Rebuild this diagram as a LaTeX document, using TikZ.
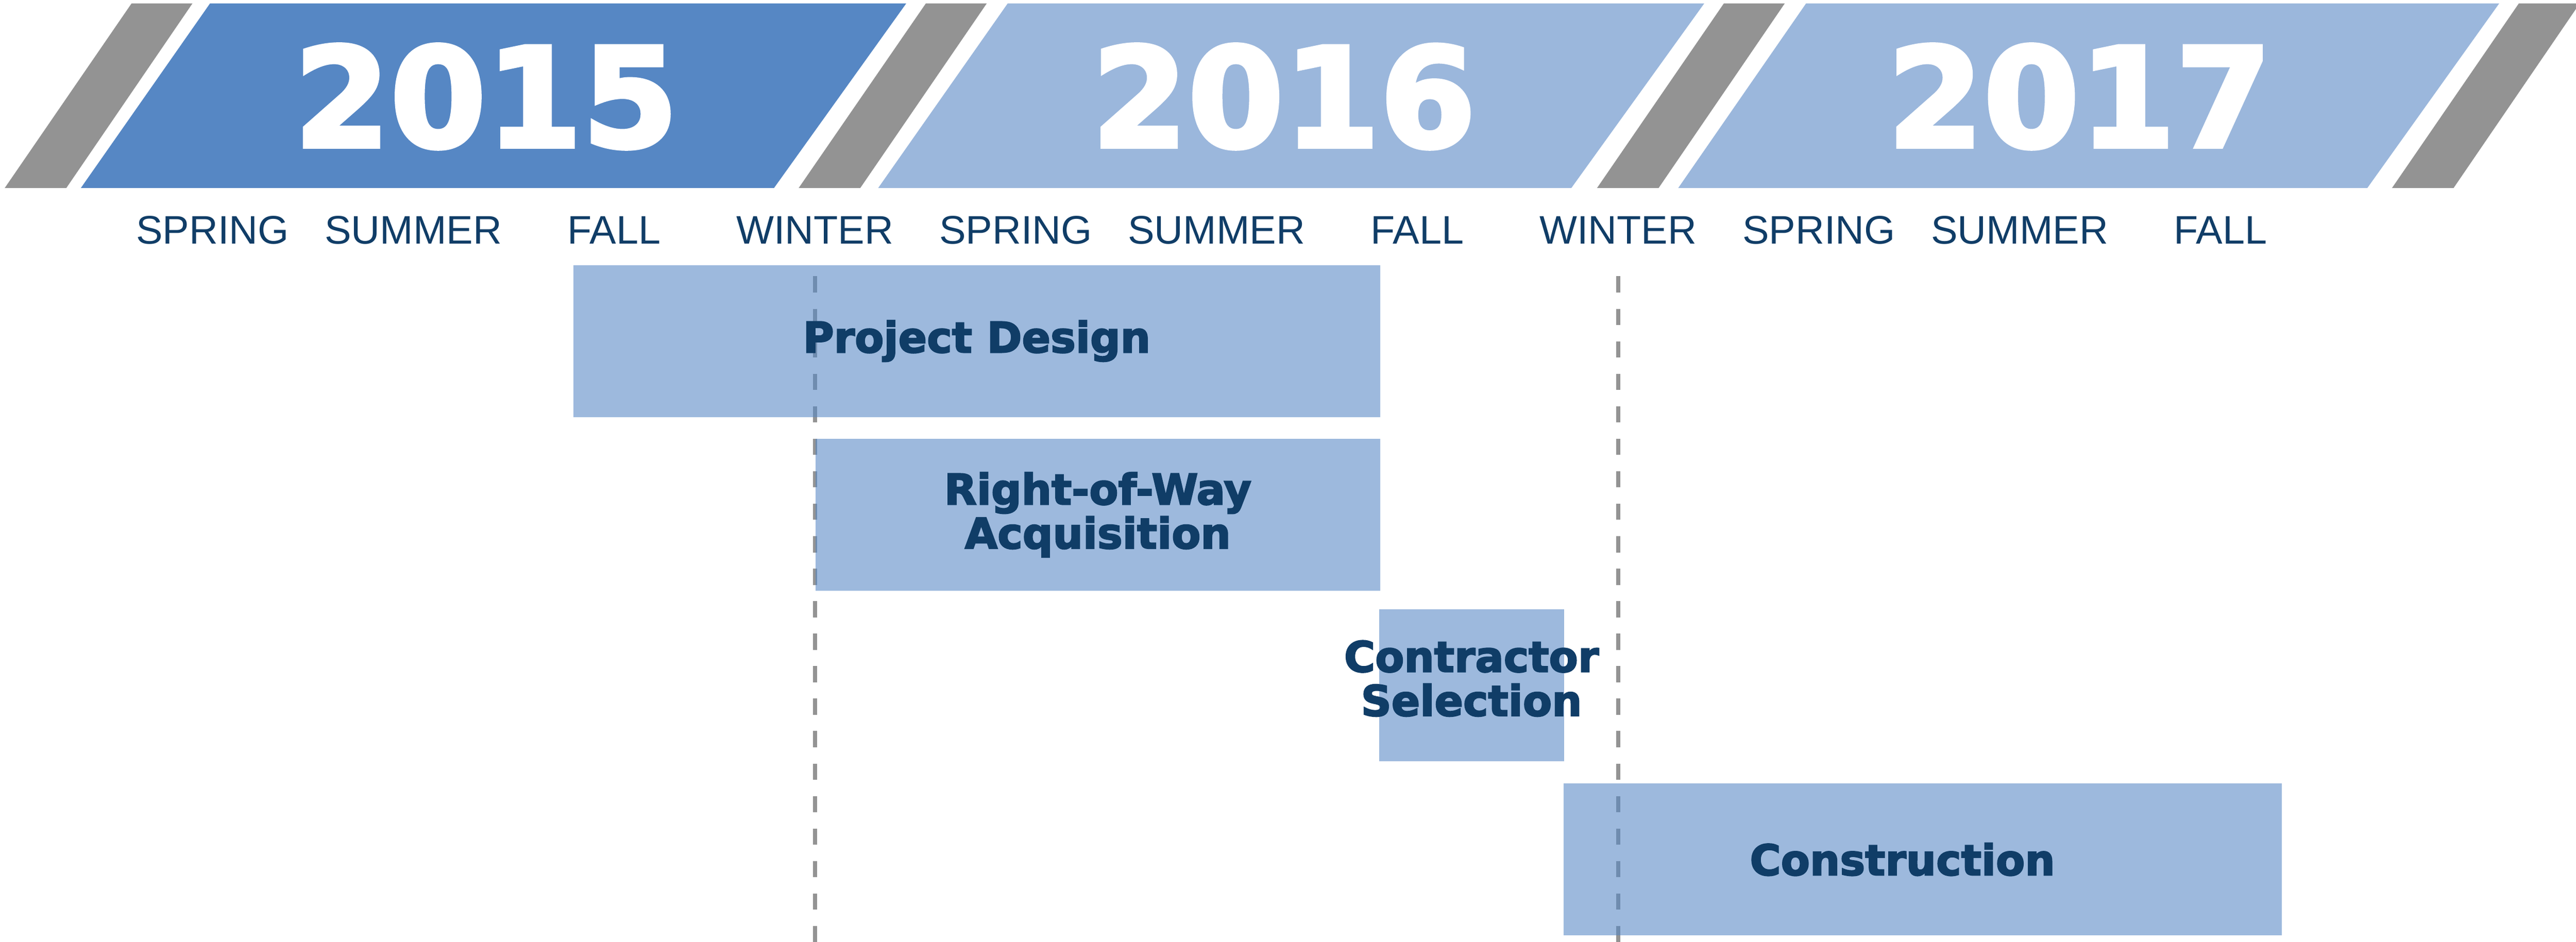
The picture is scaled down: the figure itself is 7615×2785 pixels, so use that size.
\documentclass[tikz,border=0pt]{standalone}
\usepackage{fontspec}
\setmainfont{Liberation Sans}
\newfontfamily\heavyfont{DejaVu Sans}[BoldFeatures={FakeBold=3}]
\usepackage{tikz}
\usetikzlibrary{calc,positioning}

\definecolor{yeardark}{RGB}{86,135,196}
\definecolor{yearlight}{RGB}{155,183,220}
\definecolor{slabgray}{RGB}{147,147,147}
\definecolor{navy}{RGB}{16,61,103}

\tikzset{
  slab/.style={fill=slabgray},
  year/.style={anchor=base, text=white, inner sep=0pt, font=\heavyfont\bfseries\fontsize{116}{116}\selectfont},
  season/.style={anchor=base, text=navy, inner sep=0pt, font=\fontsize{33.5}{40}\selectfont},
  taskbar/.style={fill=yeardark, fill opacity=0.58, inner sep=0pt, anchor=north west, minimum height=4.49cm},
  task/.style={text=navy, align=center, inner sep=0pt, font=\heavyfont\bfseries\fontsize{35.5}{37}\selectfont},
  guide/.style={slabgray, line width=1.2mm, dash pattern=on 4.8mm off 4.8mm}
}

\begin{document}
\begin{tikzpicture}[x=0.01cm, y=-0.01cm]
    \useasboundingbox (0,0) rectangle (7615,2785);

    % draw gray separators
    \foreach \bl/\tl in {14/389, 2361/2737, 4721/5096, 7071/7446}
    \fill[slab] (\bl,556) -- (\bl+182,556) -- (\tl+180,10) -- (\tl,10) -- cycle;

    % draw year blocks
    \foreach \bl/\br/\tr/\tl/\cx/\yr/\col in {239/2288/2679/621/1437/2015/yeardark, 2596/4645/5038/2979/3795/2016/yearlight, 4961/6998/7388/5339/6147/2017/yearlight}
    {
    \fill[\col] (\bl,556) -- (\br,556) -- (\tr,10) -- (\tl,10) -- cycle;
    \node[year] (y\yr) at (\cx,434) {\yr};
    }

    % draw seasons
    \foreach \s [count=\i from 0] in {SPRING,SUMMER,FALL,WINTER,SPRING,SUMMER,FALL,WINTER,SPRING,SUMMER,FALL}
    \node[season] (s\i) at (628+593.6*\i,721) {\s};

    % draw dashed lines
    \coordinate (gtop) at (0,817);
    \coordinate (gbot) at (0,2785);
    \draw[guide] (s3 |- gtop) -- (s3 |- gbot);
    \draw[guide] (s7 |- gtop) -- (s7 |- gbot);

    % draw bars
    \node[taskbar, minimum width=23.84cm] (design) at (1694,783) {};
    \node[taskbar, minimum width=16.68cm] (row) at (2410,1297) {};
    \node[taskbar, minimum width=5.46cm] (contract) at (4076,1801) {};
    \node[taskbar, minimum width=21.21cm] (build) at (4622,2316) {};

    % draw labels
    \node[task] (designtxt) at (design) {Project Design};
    \node[task] (rowtxt) at (row) {Right-of-Way\\Acquisition};
    \node[task] (contracttxt) at ([yshift=2mm]contract.center) {Contractor\\Selection};
    \node[task] (buildtxt) at ([xshift=-6mm]build.center) {Construction};

\end{tikzpicture}
\end{document}
